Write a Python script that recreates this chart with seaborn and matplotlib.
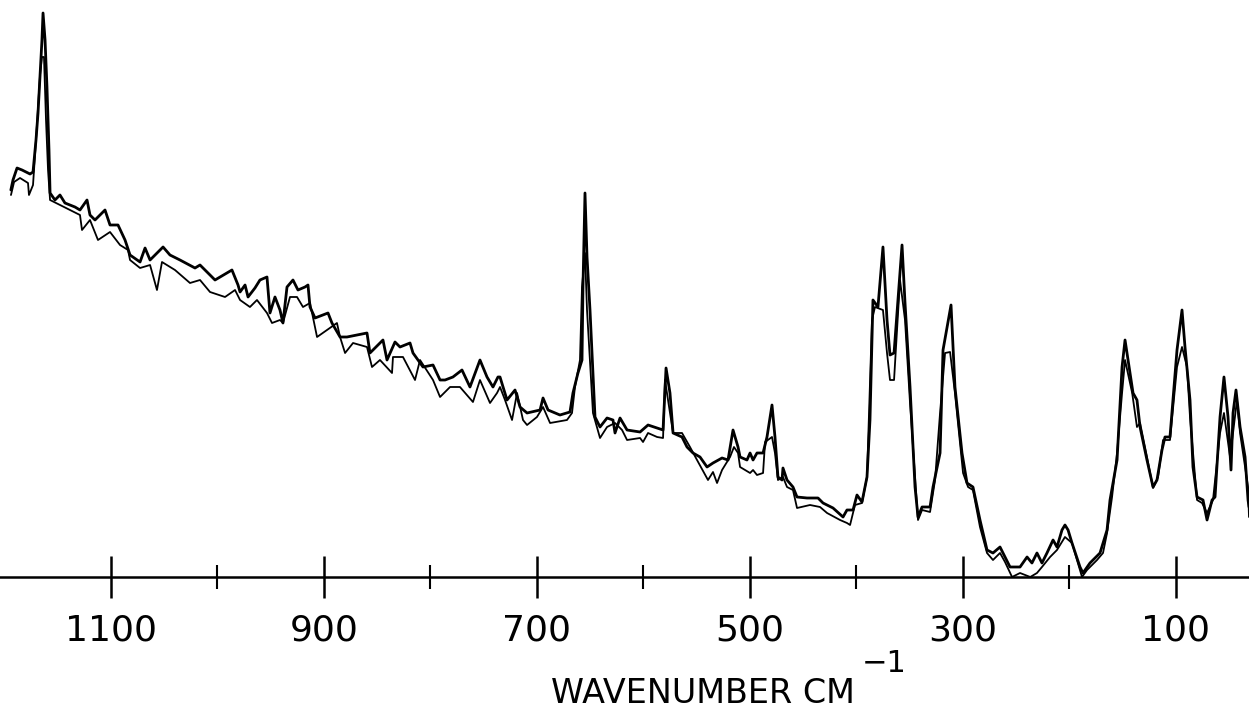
import matplotlib
matplotlib.use("Agg")
import matplotlib.pyplot as plt
import pandas as pd
import seaborn as sns

# Raman spectrum, two overlaid recorder traces
# trace A: heavier pen, higher peaks
WN_A = [1194.0, 1192.0, 1188.2, 1183.5, 1176.0, 1173.2, 1170.4, 1168.5, 1164.8, 1163.8,
        1161.9, 1160.1, 1158.2, 1157.2, 1152.6, 1147.9, 1143.2, 1133.8, 1129.1, 1122.5,
        1119.7, 1115.0, 1105.6, 1100.9, 1093.4, 1086.8, 1082.1, 1072.7, 1068.0, 1063.3,
        1051.1, 1044.6, 1035.2, 1021.1, 1016.4, 1007.0, 1002.3, 986.4, 980.7, 978.8,
        974.1, 971.3, 964.8, 960.1, 953.5, 950.7, 946.0, 941.3, 938.5, 934.7,
        929.1, 924.4, 917.8, 915.0, 913.1, 908.4, 896.2, 892.5, 884.9, 878.4,
        869.0, 859.6, 856.8, 844.6, 840.8, 833.3, 828.6, 819.2, 816.4, 807.0,
        797.6, 791.0, 786.3, 778.9, 770.4, 762.9, 753.5, 746.9, 741.3, 736.6,
        734.7, 728.1, 720.6, 715.9, 709.3, 697.1, 694.3, 689.6, 678.4, 669.0,
        666.2, 661.5, 657.7, 656.8, 654.9, 653.0, 650.2, 645.5, 640.8, 634.2,
        628.6, 626.7, 622.0, 615.4, 603.2, 595.7, 587.2, 581.6, 578.8, 575.1,
        572.2, 563.8, 559.1, 553.5, 546.9, 540.3, 534.7, 526.2, 520.6, 515.9,
        511.2, 509.3, 502.8, 499.9, 497.1, 493.4, 487.7, 484.0, 479.3, 476.5,
        473.7, 469.9, 469.0, 465.2, 459.6, 455.8, 446.4, 436.1, 431.4, 422.0,
        412.6, 408.9, 403.2, 399.5, 394.8, 390.1, 387.3, 384.5, 379.8, 375.1,
        371.3, 368.5, 364.7, 357.2, 354.4, 349.7, 345.0, 342.2, 338.4, 330.9,
        328.1, 321.5, 318.7, 311.2, 307.5, 300.9, 296.2, 290.6, 284.0, 277.4,
        271.8, 265.2, 260.5, 255.8, 246.4, 239.8, 235.2, 230.5, 225.8, 221.1,
        215.4, 211.7, 207.0, 204.2, 201.3, 197.6, 190.1, 187.3, 180.7, 171.3,
        164.7, 161.9, 155.3, 150.6, 147.8, 145.0, 140.3, 136.6, 133.7, 127.2,
        121.5, 117.8, 113.1, 110.3, 105.6, 99.0, 94.3, 91.5, 86.8, 84.0,
        80.2, 74.6, 70.8, 66.1, 63.3, 58.6, 54.9, 51.1, 48.3, 46.4,
        43.6, 39.8, 35.1, 32.3, 31.4]
INT_A = [387, 397, 409, 407, 403, 405, 437, 464, 537, 564,
         537, 490, 427, 384, 377, 382, 374, 370, 367, 377,
         362, 357, 367, 352, 352, 337, 322, 315, 329, 317,
         330, 322, 317, 309, 312, 302, 297, 307, 292, 285,
         292, 280, 289, 297, 300, 264, 280, 267, 254, 290,
         297, 287, 290, 292, 270, 259, 264, 254, 240, 240,
         242, 244, 224, 237, 217, 235, 230, 234, 224, 210,
         212, 197, 197, 200, 207, 190, 217, 200, 190, 200,
         200, 177, 187, 170, 164, 167, 179, 167, 162, 165,
         184, 204, 217, 290, 384, 320, 267, 160, 150, 159,
         157, 144, 159, 147, 145, 152, 149, 147, 209, 184,
         144, 140, 130, 124, 120, 110, 114, 119, 117, 147,
         130, 120, 117, 124, 117, 124, 124, 140, 172, 140,
         100, 97, 109, 97, 90, 80, 79, 79, 74, 69,
         60, 67, 67, 82, 75, 100, 157, 277, 270, 330,
         257, 222, 224, 332, 274, 190, 90, 60, 70, 70,
         90, 124, 227, 272, 190, 124, 94, 90, 57, 27,
         24, 30, 20, 10, 10, 20, 14, 24, 14, 24,
         37, 30, 47, 52, 47, 34, 10, 4, 14, 24,
         47, 77, 117, 210, 237, 217, 184, 177, 150, 117,
         90, 97, 127, 140, 140, 227, 267, 230, 177, 110,
         80, 77, 57, 77, 80, 160, 200, 160, 107, 164,
         187, 150, 120, 77, 70]

# trace B: lighter pen
WN_B = [1193.9, 1191.0, 1185.4, 1177.9, 1177.0, 1173.2, 1170.4, 1166.6, 1164.8, 1162.9,
        1161.0, 1159.1, 1157.2, 1147.9, 1138.5, 1129.1, 1127.2, 1119.7, 1112.2, 1100.9,
        1091.5, 1084.0, 1082.1, 1072.7, 1063.3, 1056.8, 1052.1, 1039.9, 1025.8, 1016.4,
        1007.0, 992.9, 983.5, 978.8, 969.5, 962.9, 953.5, 948.8, 941.3, 938.5,
        931.9, 925.3, 919.7, 913.1, 906.5, 897.1, 887.8, 884.9, 880.2, 872.7,
        859.6, 854.9, 847.4, 836.1, 835.2, 825.8, 814.5, 809.8, 797.6, 791.0,
        781.6, 772.3, 760.1, 753.5, 744.1, 737.5, 734.7, 730.0, 723.4, 718.7,
        713.1, 709.3, 700.0, 694.3, 687.7, 671.8, 667.1, 664.3, 659.6, 657.7,
        654.9, 653.0, 647.4, 640.8, 634.2, 626.7, 620.1, 615.4, 603.2, 600.4,
        595.7, 587.2, 581.6, 579.8, 576.9, 572.2, 563.8, 556.3, 549.7, 539.4,
        534.7, 530.9, 526.2, 518.7, 515.0, 511.2, 509.3, 504.6, 499.9, 497.1,
        493.4, 487.7, 485.8, 479.3, 476.5, 473.7, 469.0, 465.2, 459.6, 455.8,
        443.6, 434.2, 427.6, 415.4, 408.9, 406.0, 401.4, 394.8, 390.1, 385.4,
        382.6, 375.1, 371.3, 368.5, 364.7, 359.1, 354.4, 349.7, 342.2, 338.4,
        330.9, 326.2, 321.5, 316.8, 312.1, 307.5, 299.9, 295.2, 290.6, 284.0,
        277.4, 271.8, 265.2, 260.5, 253.9, 246.4, 236.8, 230.5, 225.8, 218.2,
        211.7, 204.2, 197.6, 188.2, 183.5, 174.1, 168.5, 164.7, 160.0, 155.3,
        150.6, 147.8, 141.1, 136.6, 133.7, 127.2, 121.5, 116.8, 112.1, 105.6,
        99.0, 94.3, 89.6, 86.8, 80.2, 75.5, 70.8, 65.2, 58.6, 54.9,
        49.2, 46.4, 42.7, 39.8, 32.3, 31.4]
INT_B = [382, 395, 399, 394, 382, 392, 437, 502, 520, 520,
         457, 407, 377, 372, 367, 362, 347, 357, 337, 345,
         332, 327, 317, 309, 312, 287, 315, 307, 294, 297,
         285, 280, 287, 277, 270, 277, 264, 254, 257, 254,
         280, 280, 270, 274, 240, 247, 254, 240, 224, 234,
         230, 210, 217, 204, 220, 220, 197, 217, 197, 180,
         190, 190, 175, 197, 174, 184, 190, 177, 157, 184,
         157, 152, 160, 170, 154, 157, 164, 190, 217, 290,
         324, 267, 164, 139, 150, 154, 147, 137, 139, 135,
         144, 140, 139, 197, 177, 144, 144, 130, 117, 97,
         105, 94, 107, 120, 130, 124, 110, 107, 104, 107,
         102, 104, 135, 140, 124, 97, 100, 90, 87, 69,
         72, 70, 64, 57, 54, 52, 72, 74, 100, 257,
         270, 267, 224, 197, 197, 297, 257, 174, 57, 67,
         65, 97, 164, 224, 225, 184, 104, 90, 87, 50,
         24, 17, 24, 15, 0, 4, 0, 4, 10, 20,
         27, 40, 34, 0, 7, 17, 24, 44, 80, 124,
         184, 217, 184, 150, 154, 120, 89, 100, 137, 137,
         210, 230, 210, 160, 77, 74, 64, 77, 144, 164,
         120, 144, 177, 144, 90, 60]

MAJOR_TICKS = [1100, 900, 700, 500, 300, 100]
MINOR_TICKS = [1000, 800, 600, 400, 200]
X_LABEL = "WAVENUMBER CM"
X_LABEL_EXP = "\u22121"

sns.set_theme(style="white")
plt.rcParams["font.family"] = ["DejaVu Sans"]

fig = plt.figure(figsize=(12.49, 7.19), dpi=100)
ax = fig.add_axes([0, 142 / 719, 1, 577 / 719])

df_a = pd.DataFrame({"wavenumber": WN_A, "intensity": INT_A})
df_b = pd.DataFrame({"wavenumber": WN_B, "intensity": INT_B})

sns.lineplot(data=df_b, x="wavenumber", y="intensity", sort=False, estimator=None,
             color="black", linewidth=1.3, ax=ax, clip_on=False)
sns.lineplot(data=df_a, x="wavenumber", y="intensity", sort=False, estimator=None,
             color="black", linewidth=2.0, ax=ax, clip_on=False)

ax.set_xlim(1204.2, 31.4)
ax.set_ylim(0, 577)
for side in ["top", "left", "right"]:
    ax.spines[side].set_visible(False)
ax.spines["bottom"].set_color("black")
ax.spines["bottom"].set_linewidth(1.8)

ax.set_xticks(MAJOR_TICKS)
ax.set_xticks(MINOR_TICKS, minor=True)
ax.set_xticklabels([str(t) for t in MAJOR_TICKS])
ax.tick_params(axis="x", which="major", direction="inout", length=30, width=1.8,
               color="black", pad=11, labelsize=26, labelcolor="black", bottom=True)
ax.tick_params(axis="x", which="minor", direction="inout", length=17, width=1.5,
               color="black", bottom=True)
ax.set_yticks([])
ax.set_ylabel("")

# axis title with a raised exponent, as on the original plotter output
ax.set_xlabel(X_LABEL, fontsize=24, color="black")
ax.xaxis.set_label_coords(0.563, -0.173)
ax.text(0.708, -0.150, X_LABEL_EXP, transform=ax.transAxes, fontsize=22,
        ha="center", va="center", color="black")

fig.savefig("out.png", dpi=100, facecolor="white")
